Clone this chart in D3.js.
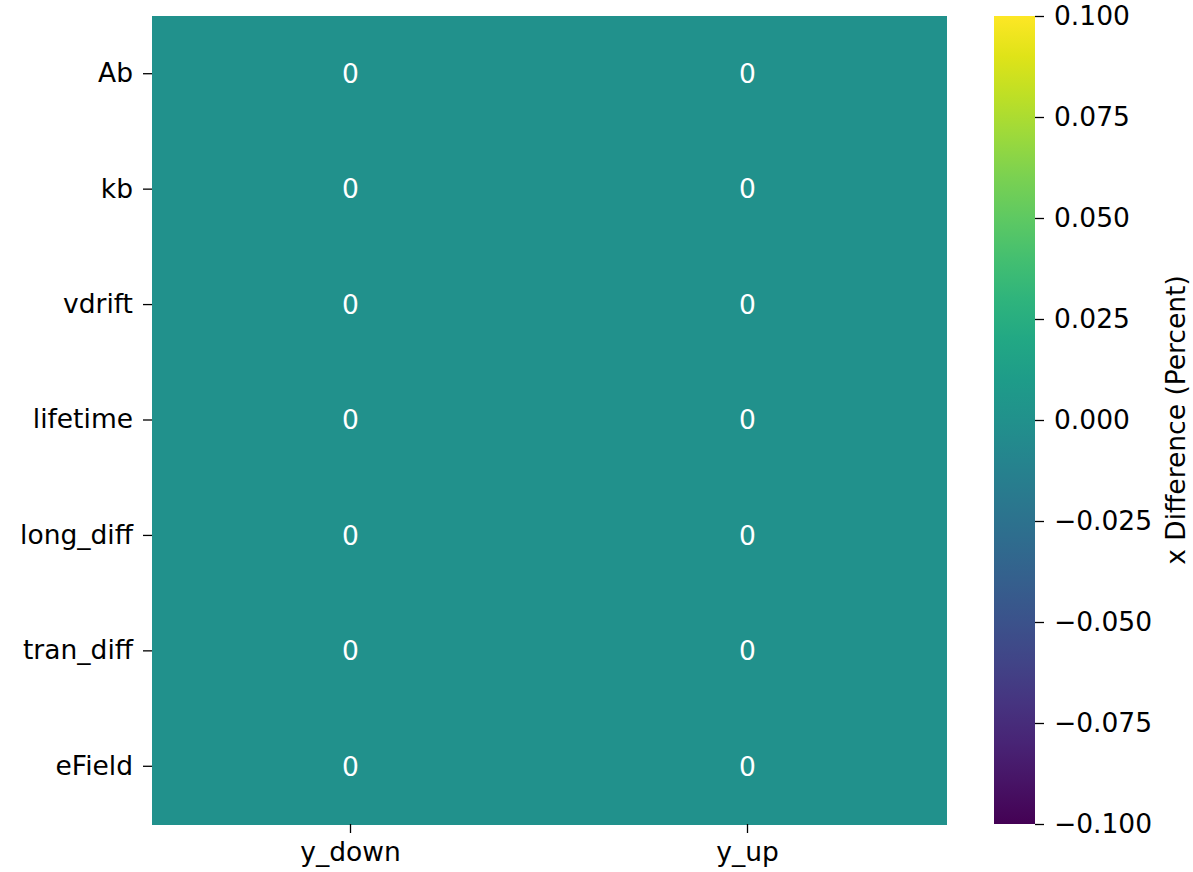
<!DOCTYPE html>
<html>
<head>
<meta charset="utf-8">
<script src="https://cdn.jsdelivr.net/npm/d3@7"></script>
<style>
  body { margin: 0; background: #fff; }
  svg text { font-family: "DejaVu Sans", sans-serif; }
</style>
</head>
<body>
<div id="chart"></div>
<script>
// data
const rows = ["Ab", "kb", "vdrift", "lifetime", "long_diff", "tran_diff", "eField"];
const cols = ["y_down", "y_up"];
const values = [
    [0, 0],
    [0, 0],
    [0, 0],
    [0, 0],
    [0, 0],
    [0, 0],
    [0, 0]
];
const cbar_ticks = [-0.1, -0.075, -0.05, -0.025, 0, 0.025, 0.05, 0.075, 0.1];
const cbar_label = "x Difference (Percent)";

const width = 1193;
const height = 872;
const fs = 26.5;
const plot = {left: 152, right: 946, top: 16, bottom: 824};
const cb = {left: 994, right: 1035, top: 16, bottom: 824};

const svg = d3.select("#chart")
    .append("svg")
    .attr("width", width)
    .attr("height", height);

const x = d3.scaleBand()
    .domain(cols)
    .range([plot.left, plot.right]);

const y = d3.scaleBand()
    .domain(rows)
    .range([plot.top, plot.bottom]);

const color = d3.scaleSequential(d3.interpolateViridis)
    .domain([-0.1, 0.1]);

const cells = [];
rows.forEach((r, i) => cols.forEach((c, j) => cells.push({r: r, c: c, v: values[i][j]})));

svg.append("g")
    .attr("shape-rendering", "crispEdges")
    .selectAll("rect")
    .data(cells)
    .join("rect")
        .attr("x", d => x(d.c))
        .attr("y", d => y(d.r))
        .attr("width", x.bandwidth() + 1)
        .attr("height", y.bandwidth() + 1)
        .attr("fill", d => color(d.v));

svg.append("g")
    .selectAll("text")
    .data(cells)
    .join("text")
        .attr("x", d => x(d.c) + x.bandwidth() / 2)
        .attr("y", d => y(d.r) + y.bandwidth() / 2)
        .attr("dy", "0.35em")
        .attr("text-anchor", "middle")
        .attr("fill", "#fff")
        .attr("font-size", fs)
        .text(d => d3.format("d")(d.v));

function styleAxis(g) {
    g.select(".domain").remove();
    g.selectAll(".tick line").attr("stroke", "#000").attr("stroke-width", 1.3);
    g.selectAll(".tick text").attr("fill", "#000").attr("font-size", fs)
        .attr("font-family", "DejaVu Sans, sans-serif");
}

svg.append("g")
    .attr("transform", `translate(${plot.left},0)`)
    .call(d3.axisLeft(y).tickSize(9).tickPadding(10))
    .call(styleAxis);

svg.append("g")
    .attr("transform", `translate(0,${plot.bottom})`)
    .call(d3.axisBottom(x).tickSize(9).tickPadding(9))
    .call(styleAxis);

// colour bar
const cy = d3.scaleLinear()
    .domain([-0.1, 0.1])
    .range([cb.bottom, cb.top]);

const defs = svg.append("defs");
const grad = defs.append("linearGradient")
    .attr("id", "cbar")
    .attr("x1", 0).attr("y1", 1).attr("x2", 0).attr("y2", 0);
d3.range(0, 1.0001, 0.05).forEach(t => {
    grad.append("stop")
        .attr("offset", t)
        .attr("stop-color", d3.interpolateViridis(t));
});

svg.append("rect")
    .attr("x", cb.left)
    .attr("y", cb.top)
    .attr("width", cb.right - cb.left)
    .attr("height", cb.bottom - cb.top)
    .attr("fill", "url(#cbar)");

const minus = d3.formatLocale({minus: "\u2212", decimal: ".", thousands: ",", grouping: [3], currency: ["", ""]});
svg.append("g")
    .attr("transform", `translate(${cb.right},0)`)
    .call(d3.axisRight(cy).tickValues(cbar_ticks).tickFormat(minus.format(".3f")).tickSize(9).tickPadding(10))
    .call(styleAxis);

svg.append("text")
    .attr("transform", `translate(${1176},${(cb.top + cb.bottom) / 2}) rotate(-90)`)
    .attr("text-anchor", "middle")
    .attr("dy", "0.35em")
    .attr("font-size", fs)
    .attr("fill", "#000")
    .text(cbar_label);
</script>
</body>
</html>
